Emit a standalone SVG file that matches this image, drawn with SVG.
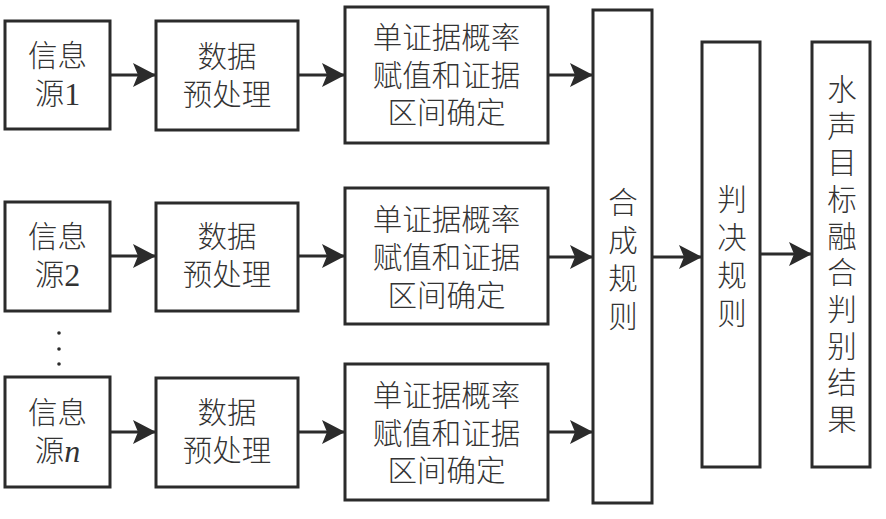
<svg xmlns="http://www.w3.org/2000/svg" width="886" height="519" viewBox="0 0 886 519">
<defs>
<style>
.box{fill:#fff;stroke:#2b2b2b;stroke-width:3}
.t{font-family:"Liberation Serif","Noto Sans CJK SC",serif;font-size:29.5px;font-weight:300;fill:#333;text-anchor:middle;dominant-baseline:central}
.d{font-size:32px}
.c{stroke:#2b2b2b;stroke-width:3;fill:none;marker-end:url(#ah)}
</style>
<marker id="ah" markerUnits="userSpaceOnUse" markerWidth="24" markerHeight="26" refX="23" refY="12" orient="auto">
<path d="M0,0 L23,12 L0,24 L5,12 Z" fill="#2b2b2b"/>
</marker>
</defs>
<rect width="886" height="519" fill="#fff"/>
<g id="connectors">
<line class="c" x1="110" y1="75" x2="156" y2="75"/>
<line class="c" x1="298" y1="75" x2="345" y2="75"/>
<line class="c" x1="548" y1="75" x2="593" y2="75"/>
<line class="c" x1="110" y1="256" x2="156" y2="256"/>
<line class="c" x1="298" y1="256" x2="345" y2="256"/>
<line class="c" x1="548" y1="257" x2="593" y2="257"/>
<line class="c" x1="110" y1="432" x2="156" y2="432"/>
<line class="c" x1="298" y1="432" x2="345" y2="432"/>
<line class="c" x1="548" y1="432" x2="593" y2="432"/>
<line class="c" x1="652" y1="257" x2="702" y2="257"/>
<line class="c" x1="760" y1="254" x2="812" y2="254"/>
</g>
<g id="dots" fill="#2b2b2b">
<circle cx="59" cy="333" r="1.8"/>
<circle cx="59" cy="349" r="1.8"/>
<circle cx="59" cy="364" r="1.8"/>
</g>
<g id="src1"><rect class="box" x="5" y="21" width="105" height="108"/>
<text class="t" x="57.5" y="56">信息</text><text class="t" x="57.5" y="94">源<tspan class="d">1</tspan></text></g>
<g id="pre1"><rect class="box" x="156" y="21" width="142" height="109"/>
<text class="t" x="227" y="57">数据</text><text class="t" x="227" y="95">预处理</text></g>
<g id="bpa1"><rect class="box" x="345" y="7" width="203" height="136"/>
<text class="t" x="446.5" y="38">单证据概率</text><text class="t" x="446.5" y="75.5">赋值和证据</text><text class="t" x="446.5" y="113">区间确定</text></g>
<g id="src2"><rect class="box" x="5" y="202" width="105" height="109"/>
<text class="t" x="57.5" y="237">信息</text><text class="t" x="57.5" y="275">源<tspan class="d">2</tspan></text></g>
<g id="pre2"><rect class="box" x="156" y="203" width="142" height="108"/>
<text class="t" x="227" y="237">数据</text><text class="t" x="227" y="275">预处理</text></g>
<g id="bpa2"><rect class="box" x="345" y="188" width="203" height="136"/>
<text class="t" x="446.5" y="220">单证据概率</text><text class="t" x="446.5" y="258">赋值和证据</text><text class="t" x="446.5" y="296">区间确定</text></g>
<g id="srcn"><rect class="box" x="5" y="377" width="105" height="110"/>
<text class="t" x="57.5" y="413">信息</text><text class="t" x="57.5" y="451">源<tspan class="d" font-style="italic">n</tspan></text></g>
<g id="pren"><rect class="box" x="156" y="378" width="142" height="109"/>
<text class="t" x="227" y="413">数据</text><text class="t" x="227" y="451">预处理</text></g>
<g id="bpan"><rect class="box" x="345" y="364" width="203" height="136"/>
<text class="t" x="446.5" y="396">单证据概率</text><text class="t" x="446.5" y="434">赋值和证据</text><text class="t" x="446.5" y="471">区间确定</text></g>
<g id="combine"><rect class="box" x="593" y="10" width="59" height="493"/>
<text class="t" x="623" y="203">合</text><text class="t" x="623" y="241">成</text><text class="t" x="623" y="279">规</text><text class="t" x="623" y="317">则</text></g>
<g id="decide"><rect class="box" x="702" y="42" width="58" height="425"/>
<text class="t" x="732" y="200">判</text><text class="t" x="732" y="238">决</text><text class="t" x="732" y="276">规</text><text class="t" x="732" y="314">则</text></g>
<g id="result"><rect class="box" x="812" y="42" width="58" height="425"/>
<text class="t" x="842" y="90">水</text><text class="t" x="842" y="126.7">声</text><text class="t" x="842" y="163.3">目</text><text class="t" x="842" y="200">标</text><text class="t" x="842" y="236.7">融</text><text class="t" x="842" y="273.3">合</text><text class="t" x="842" y="310">判</text><text class="t" x="842" y="346.7">别</text><text class="t" x="842" y="383.3">结</text><text class="t" x="842" y="420">果</text></g>
</svg>
